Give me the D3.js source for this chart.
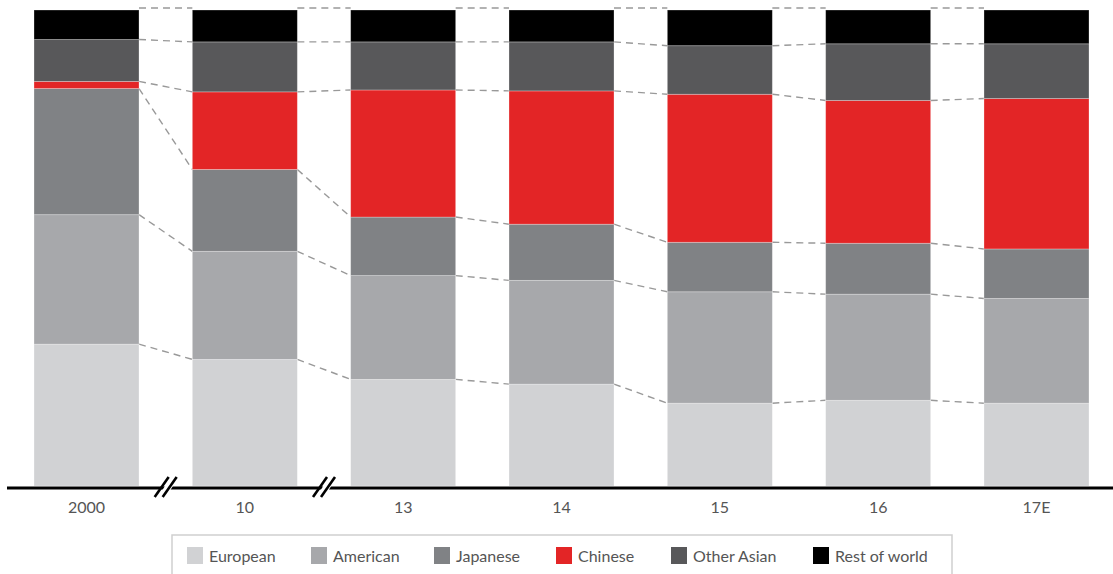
<!DOCTYPE html>
<html>
<head>
<meta charset="utf-8">
<script src="https://cdn.jsdelivr.net/npm/d3@7"></script>
<style>
  html, body { margin: 0; padding: 0; background: #fff; }
  svg { display: block; }
  text { font-family: Lato, "Noto Sans", sans-serif; }
</style>
</head>
<body>
<svg id="chart" width="1113" height="574"></svg>
<script>
// Share of units by producer origin, per year (percent)
const years = ["2000", "10", "13", "14", "15", "16", "17E"];
const seriesNames = ["European", "American", "Japanese", "Chinese", "Other Asian", "Rest of world"];
const european   = [29.8, 26.6, 22.4, 21.4, 17.4, 18.0, 17.4];
const american   = [27.2, 22.7, 21.8, 21.8, 23.4, 22.3, 22.0];
const japanese   = [26.5, 17.2, 12.3, 11.8, 10.4, 10.7, 10.4];
const chinese    = [1.5, 16.3, 26.7, 28.0, 31.1, 30.0, 31.6];
const otherAsian = [8.8, 10.5, 10.1, 10.3, 10.2, 11.9, 11.5];
const restOfWorld = [6.2, 6.7, 6.7, 6.7, 7.5, 7.1, 7.1];
const seriesColors = ["#d1d2d4", "#a7a8ab", "#808285", "#e32526", "#58585a", "#000000"];

const valuesBySeries = [european, american, japanese, chinese, otherAsian, restOfWorld];
const rows = years.map((yr, i) => {
  const r = { year: yr };
  seriesNames.forEach((s, k) => { r[s] = valuesBySeries[k][i]; });
  return r;
});

const svg = d3.select("#chart");

const x = d3.scaleBand()
  .domain(years)
  .range([34, 1089])
  .paddingInner(0.3368)
  .paddingOuter(0);

const y = d3.scaleLinear().domain([0, 100]).range([486, 10]);

const stacked = d3.stack().keys(seriesNames)(rows);
const bw = x.bandwidth();

// Dashed connectors between segment boundaries of neighbouring bars
const connectors = [];
stacked.forEach((layer) => {
  for (let i = 0; i < years.length - 1; i++) {
    const isTop = layer.key === seriesNames[seriesNames.length - 1];
    const off = isTop ? -2 : 0;
    connectors.push({
      x1: x(years[i]) + bw, y1: y(layer[i][1]) + off,
      x2: x(years[i + 1]), y2: y(layer[i + 1][1]) + off
    });
  }
});
svg.append("g").attr("class", "connectors")
  .selectAll("line").data(connectors).join("line")
  .attr("x1", d => d.x1).attr("y1", d => d.y1)
  .attr("x2", d => d.x2).attr("y2", d => d.y2)
  .attr("stroke", "#999")
  .attr("stroke-width", 1.4)
  .attr("stroke-dasharray", "7,5");

// Stacked bars
svg.append("g").attr("class", "bars")
  .selectAll("g").data(stacked).join("g")
  .attr("fill", (d, k) => seriesColors[k])
  .selectAll("rect").data(d => d).join("rect")
  .attr("x", d => x(d.data.year))
  .attr("y", d => y(d[1]))
  .attr("width", bw)
  .attr("height", d => y(d[0]) - y(d[1]))
  .attr("stroke", "rgba(255,255,255,0.35)")
  .attr("stroke-width", 0.8);

// Baseline axis with break marks
const axisY = 488;
svg.append("line")
  .attr("x1", 7).attr("x2", 1113)
  .attr("y1", axisY).attr("y2", axisY)
  .attr("stroke", "#000").attr("stroke-width", 3.2);

const breaks = [0, 1].map(i => (x(years[i]) + bw + x(years[i + 1])) / 2);
const br = svg.append("g").attr("class", "breaks");
breaks.forEach(c => {
  br.append("polygon")
    .attr("points", [[c - 7, axisY + 8], [c + 1, axisY + 8], [c + 11, axisY - 8], [c + 3, axisY - 8]].map(p => p.join(",")).join(" "))
    .attr("fill", "#fff");
  [-4, 4].forEach(dx => {
    br.append("line")
      .attr("x1", c + dx - 7).attr("y1", axisY + 9)
      .attr("x2", c + dx + 7).attr("y2", axisY - 11)
      .attr("stroke", "#000").attr("stroke-width", 2.6);
  });
});

// Category labels
const xAxis = d3.axisBottom(x).tickSize(0).tickPadding(0);
const gx = svg.append("g")
  .attr("transform", `translate(0,${axisY + 25})`)
  .call(xAxis);
gx.select(".domain").remove();
gx.selectAll("text")
  .attr("dy", 0)
  .attr("font-size", 16)
  .attr("fill", "#555")
  .style("font-family", "Lato, 'Noto Sans', sans-serif");

// Legend
const legend = svg.append("g").attr("class", "legend");
legend.append("rect")
  .attr("x", 172).attr("y", 535)
  .attr("width", 780).attr("height", 45)
  .attr("fill", "#fff")
  .attr("stroke", "#cfcfcf").attr("stroke-width", 1.5);
const legendX = [187, 311, 434, 556, 671, 813];
seriesNames.forEach((name, k) => {
  const g = legend.append("g").attr("transform", `translate(${legendX[k]},547)`);
  g.append("rect").attr("width", 16).attr("height", 17).attr("fill", seriesColors[k]);
  g.append("text")
    .attr("x", 22).attr("y", 15)
    .attr("font-size", 16)
    .attr("fill", "#555")
    .text(name);
});
</script>
</body>
</html>
